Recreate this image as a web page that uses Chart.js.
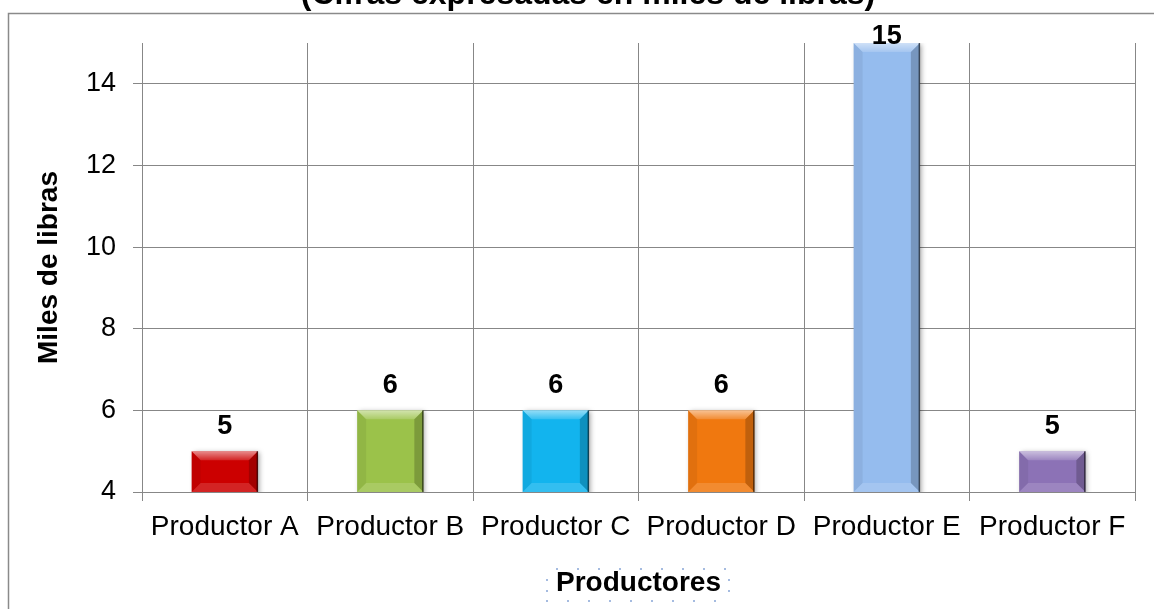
<!DOCTYPE html>
<html>
<head>
<meta charset="utf-8">
<script src="https://cdn.jsdelivr.net/npm/chart.js@4/dist/chart.umd.min.js"></script>
<style>
  html, body { margin: 0; padding: 0; background: #ffffff; overflow: hidden; }
  #wrap { position: relative; width: 1154px; height: 609px; }
</style>
</head>
<body>
<div id="wrap"><canvas id="c" width="1154" height="609"></canvas></div>
<script>
// Production per producer, thousands of pounds
const productores = ['Productor A', 'Productor B', 'Productor C', 'Productor D', 'Productor E', 'Productor F'];
const milesDeLibras = [5, 6, 6, 6, 15, 5];
const coloresBarras = ['#CC0000', '#9BC24A', '#12B4EE', '#F0780F', '#95BCEE', '#8C72B6'];
const yTicks = [4, 6, 8, 10, 12, 14];
const yMin = 4;
const yMax = 15;

const tituloGrafico = '(Cifras expresadas en miles de libras)';
const tituloEjeY = 'Miles de libras';
const tituloEjeX = 'Productores';

const FONT = '"Liberation Sans", Arial, sans-serif';
const GRID = '#878787';

// Outer frame and chart title
const framePlugin = {
  id: 'frame',
  beforeDraw(chart) {
    const ctx = chart.ctx;
    ctx.save();
    ctx.fillStyle = '#ffffff';
    ctx.fillRect(0, 0, chart.width, chart.height);
    ctx.strokeStyle = '#8a8a8a';
    ctx.lineWidth = 1.5;
    ctx.strokeRect(8.5, 13.5, 2000, 2000);
    ctx.fillStyle = '#000000';
    ctx.font = 'bold 32px ' + FONT;
    ctx.textAlign = 'center';
    ctx.textBaseline = 'alphabetic';
    ctx.fillText(tituloGrafico, 588, 4);
    ctx.restore();
  }
};

// Soft drop shadow under the bars
const shadowPlugin = {
  id: 'barShadow',
  beforeDatasetDraw(chart) {
    const ctx = chart.ctx;
    ctx.save();
    ctx.shadowColor = 'rgba(0,0,0,0.35)';
    ctx.shadowBlur = 5;
    ctx.shadowOffsetX = 2;
    ctx.shadowOffsetY = 1;
  },
  afterDatasetDraw(chart) {
    chart.ctx.restore();
  }
};

// Bevelled faces on each bar, then the value labels
const bevelPlugin = {
  id: 'bevel',
  afterDatasetsDraw(chart) {
    const ctx = chart.ctx;
    const meta = chart.getDatasetMeta(0);
    const b = 9;
    meta.data.forEach((bar, i) => {
      const p = bar.getProps(['x', 'y', 'base', 'width'], true);
      const l = p.x - p.width / 2, r = p.x + p.width / 2, t = p.y;
      const bo = Math.min(p.base, chart.chartArea.bottom);
      const poly = (pts, fill) => {
        ctx.beginPath();
        ctx.moveTo(pts[0][0], pts[0][1]);
        for (let k = 1; k < pts.length; k++) ctx.lineTo(pts[k][0], pts[k][1]);
        ctx.closePath();
        ctx.fillStyle = fill;
        ctx.fill();
      };
      ctx.save();
      const gTop = ctx.createLinearGradient(0, t, 0, t + b);
      gTop.addColorStop(0, 'rgba(255,255,255,0.55)');
      gTop.addColorStop(1, 'rgba(255,255,255,0.15)');
      poly([[l, t], [r, t], [r - b, t + b], [l + b, t + b]], gTop);
      poly([[l, bo], [r, bo], [r - b, bo - b], [l + b, bo - b]], 'rgba(255,255,255,0.14)');
      poly([[l, t], [l + b, t + b], [l + b, bo - b], [l, bo]], 'rgba(0,0,0,0.06)');
      poly([[r, t], [r - b, t + b], [r - b, bo - b], [r, bo]], 'rgba(0,0,0,0.2)');
      ctx.strokeStyle = 'rgba(0,0,0,0.55)';
      ctx.lineWidth = 1.5;
      ctx.beginPath();
      ctx.moveTo(r - 0.5, t);
      ctx.lineTo(r - 0.5, bo);
      ctx.stroke();
      ctx.restore();

      // value label
      ctx.save();
      ctx.fillStyle = '#000000';
      ctx.font = 'bold 27px ' + FONT;
      ctx.textAlign = 'center';
      ctx.textBaseline = 'alphabetic';
      const yLab = Math.max(p.y - 17, 44);
      ctx.fillText(String(milesDeLibras[i]), p.x, yLab);
      ctx.restore();
    });
  }
};

// Dotted selection outline around the horizontal axis title
const selectionPlugin = {
  id: 'selection',
  afterDraw(chart) {
    const ctx = chart.ctx;
    ctx.save();
    ctx.fillStyle = 'rgba(95,135,200,0.75)';
    const x0 = 547, x1 = 729, y0 = 569, y1 = 601, step = 21;
    for (let x = x0 + 10; x <= x1; x += step) {
      ctx.beginPath(); ctx.arc(x, y0, 1, 0, Math.PI * 2); ctx.fill();
    }
    for (let x = x0; x <= x1 - 8; x += step) {
      ctx.beginPath(); ctx.arc(x, y1, 1, 0, Math.PI * 2); ctx.fill();
    }
    for (const yy of [580, 591]) {
      ctx.beginPath(); ctx.arc(x0, yy, 1, 0, Math.PI * 2); ctx.fill();
      ctx.beginPath(); ctx.arc(x1, yy, 1, 0, Math.PI * 2); ctx.fill();
    }
    ctx.restore();
  }
};

new Chart(document.getElementById('c'), {
  type: 'bar',
  data: {
    labels: productores,
    datasets: [{
      data: milesDeLibras,
      backgroundColor: coloresBarras,
      borderWidth: 0,
      barPercentage: 0.4,
      categoryPercentage: 1.0
    }]
  },
  options: {
    responsive: false,
    animation: false,
    devicePixelRatio: 1,
    layout: { padding: { top: 43, right: 19, bottom: 0, left: 0 } },
    plugins: {
      legend: { display: false },
      tooltip: { enabled: false },
      title: { display: false }
    },
    scales: {
      x: {
        offset: true,
        grid: { display: true, offset: true, color: GRID, lineWidth: 1, tickLength: 9, drawTicks: true },
        border: { display: true, color: GRID, width: 1 },
        ticks: { color: '#000000', font: { family: FONT, size: 28 }, padding: 9, maxRotation: 0, autoSkip: false },
        title: { display: true, text: tituloEjeX, color: '#000000', font: { family: FONT, size: 28, weight: 'bold' }, padding: { top: 0, bottom: 9 } },
        afterFit(scale) { scale.height = 117; }
      },
      y: {
        min: yMin,
        max: yMax,
        grid: { display: true, color: GRID, lineWidth: 1, tickLength: 9, drawTicks: true },
        border: { display: true, color: GRID, width: 1 },
        ticks: { color: '#000000', font: { family: FONT, size: 27 }, padding: 17 },
        afterBuildTicks(scale) { scale.ticks = yTicks.map(v => ({ value: v })); },
        title: { display: true, text: tituloEjeY, color: '#000000', font: { family: FONT, size: 28, weight: 'bold' }, padding: { top: 32, bottom: 0 } },
        afterFit(scale) { scale.width = 142; }
      }
    }
  },
  plugins: [framePlugin, shadowPlugin, bevelPlugin, selectionPlugin]
});
</script>
</body>
</html>
